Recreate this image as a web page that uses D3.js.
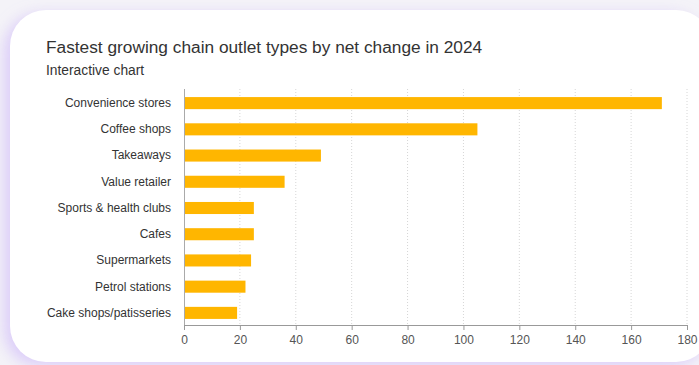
<!DOCTYPE html>
<html><head><meta charset="utf-8">
<script src="https://cdn.jsdelivr.net/npm/d3@7"></script>
<style>
html,body{margin:0;padding:0;width:699px;height:365px;overflow:hidden;background:#f4f3f8;font-family:"Liberation Sans",Arial,Helvetica,sans-serif;}
#card{position:absolute;left:10px;top:10px;width:702px;height:352px;background:#fff;border-radius:36px;box-shadow:-6px 4px 14px rgba(200,175,250,0.55);}
svg{position:absolute;left:0;top:0;}
</style></head><body>
<div id="card"></div>
<svg id="chart" width="699" height="365"></svg>
<script>
const categories = ["Convenience stores","Coffee shops","Takeaways","Value retailer","Sports & health clubs","Cafes","Supermarkets","Petrol stations","Cake shops/patisseries"];
const values = [171,105,49,36,25,25,24,22,19];
const xTicks = [0,20,40,60,80,100,120,140,160,180];
const title = "Fastest growing chain outlet types by net change in 2024";
const subtitle = "Interactive chart";

const svg = d3.select("#chart");
const pLeft = 184, pRight = 687, pTop = 89, pBottom = 325;
const x = d3.scaleLinear().domain([0,180]).range([pLeft,pRight]);
const y = d3.scaleBand().domain(categories).range([pTop+1,pBottom+1]).paddingInner(0.54).paddingOuter(0.27);

svg.append("text").attr("x",46).attr("y",53).attr("font-size",17.3).attr("fill","#333").text(title);
svg.append("text").attr("x",46).attr("y",75).attr("font-size",13.8).attr("fill","#333").text(subtitle);

// gridlines
svg.append("g").selectAll("line").data(xTicks.filter(d=>d>0)).join("line")
  .attr("x1",d=>x(d)).attr("x2",d=>x(d)).attr("y1",pTop).attr("y2",pBottom)
  .attr("stroke","#d6d6d6").attr("stroke-width",1).attr("stroke-dasharray","1,2");

// bars
svg.append("g").selectAll("rect").data(values).join("rect")
  .attr("x",x(0)).attr("y",(d,i)=>y(categories[i]))
  .attr("width",d=>x(d)-x(0)).attr("height",y.bandwidth())
  .attr("fill","#ffb600");

// y axis line
svg.append("line").attr("x1",pLeft+0.5).attr("x2",pLeft+0.5).attr("y1",pTop).attr("y2",pBottom).attr("stroke","#aaa");

// x axis
const xa = svg.append("g").attr("transform",`translate(0,${pBottom})`)
  .call(d3.axisBottom(x).tickValues(xTicks).tickSize(5).tickPadding(5));
xa.select(".domain").attr("stroke","#999");
xa.selectAll(".tick line").attr("stroke","#999");
xa.selectAll(".tick text").attr("font-size",12).attr("fill","#555").attr("font-family","Liberation Sans, Arial, sans-serif");

// y axis labels
const ya = svg.append("g").attr("transform",`translate(${pLeft},0)`)
  .call(d3.axisLeft(y).tickSize(0).tickPadding(13));
ya.select(".domain").remove();
ya.selectAll(".tick text").attr("font-size",12).attr("fill","#333").attr("font-family","Liberation Sans, Arial, sans-serif");
</script>
</body></html>
